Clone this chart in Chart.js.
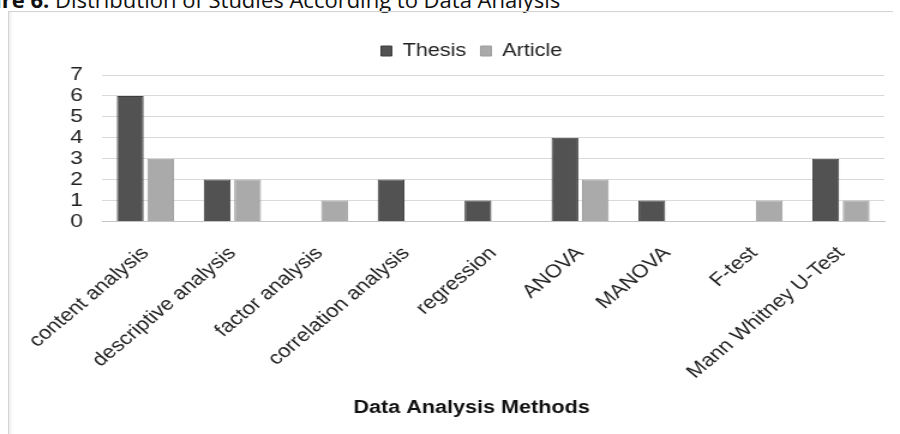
<!DOCTYPE html>
<html>
<head>
<meta charset="utf-8">
<script src="https://cdn.jsdelivr.net/npm/chart.js@4/dist/chart.umd.min.js"></script>
<style>
  html, body { margin: 0; padding: 0; background: #fff; }
  body { width: 900px; height: 434px; position: relative; overflow: hidden; }
  #caption {
    position: absolute; left: -44px; top: -16px; white-space: nowrap;
    font-family: "Open Sans", sans-serif; font-size: 22px; line-height: normal; color: #111;
  }
  #caption b { font-weight: 700; }
  #frame {
    position: absolute; left: 8px; top: 11px; width: 884px; height: 440px;
    border-left: 1px solid #d4d4d4; border-top: 1px solid #d4d4d4;
    box-shadow: inset 3px 0 4px -2px #e4e4e4;
  }
  #wrap {
    position: absolute; left: 0; top: 0; width: 750px; height: 434px;
    transform: scaleX(1.2); transform-origin: 0 0;
  }
</style>
</head>
<body>
<div id="caption"><b>Figure 6.</b> Distribution of Studies According to Data Analysis</div>
<div id="frame"></div>
<div id="wrap"><canvas id="chart"></canvas></div>
<script>
// Analysis methods and how many theses / articles used each
const categories = [
  'content analysis', 'descriptive analysis', 'factor analysis',
  'correlation analysis', 'regression', 'ANOVA', 'MANOVA', 'F-test',
  'Mann Whitney U-Test'
];
const thesisCounts  = [6, 2, 0, 2, 1, 4, 1, 0, 3];
const articleCounts = [3, 2, 1, 0, 0, 2, 0, 1, 1];
const yTickValues = [0, 1, 2, 3, 4, 5, 6, 7];

const FONT = "'Liberation Sans', Arial, sans-serif";

// a little extra room between the legend row and the plot
const legendGap = {
  id: 'legendGap',
  beforeInit(chart) {
    const fit = chart.legend.fit;
    chart.legend.fit = function () {
      fit.call(this);
      this.height += 5;
    };
  }
};

new Chart(document.getElementById('chart'), {
  type: 'bar',
  data: {
    labels: categories,
    datasets: [
      { label: 'Thesis', data: thesisCounts, backgroundColor: '#525252',
        borderColor: '#3e3e3e', borderWidth: 1 },
      { label: 'Article', data: articleCounts, backgroundColor: '#aaaaaa',
        borderColor: '#9c9c9c', borderWidth: 1 }
    ]
  },
  plugins: [legendGap],
  options: {
    responsive: true,
    maintainAspectRatio: false,
    animation: false,
    layout: { padding: { top: 30, right: 13, bottom: 15, left: 49 } },
    datasets: { bar: { categoryPercentage: 0.7, barPercentage: 0.88 } },
    plugins: {
      legend: {
        position: 'top',
        labels: {
          font: { family: FONT, size: 18 },
          color: '#222',
          boxWidth: 9, boxHeight: 10,
          padding: 12
        }
      },
      title: {
        display: true, position: 'bottom', text: 'Data Analysis Methods',
        color: '#111', font: { family: FONT, size: 18, weight: 'bold' },
        padding: { top: 0, bottom: 0 }
      },
      tooltip: { enabled: false }
    },
    scales: {
      x: {
        afterFit: s => { s.paddingLeft = 0; s.paddingRight = 0; s.height = 176; },
        grid: { display: false, drawTicks: false },
        border: { color: '#c4c4c4' },
        ticks: {
          font: { family: FONT, size: 18.5 }, color: '#222',
          minRotation: 45, maxRotation: 45, autoSkip: false, padding: 21
        }
      },
      y: {
        min: 0, max: 7,
        afterFit: s => { s.width = 36; },
        afterBuildTicks: s => { s.ticks = yTickValues.map(v => ({ value: v })); },
        grid: { color: '#dadada', drawTicks: false },
        border: { display: false },
        ticks: { font: { family: FONT, size: 19 }, color: '#222', padding: 16, autoSkip: false }
      }
    }
  }
});
</script>
</body>
</html>
